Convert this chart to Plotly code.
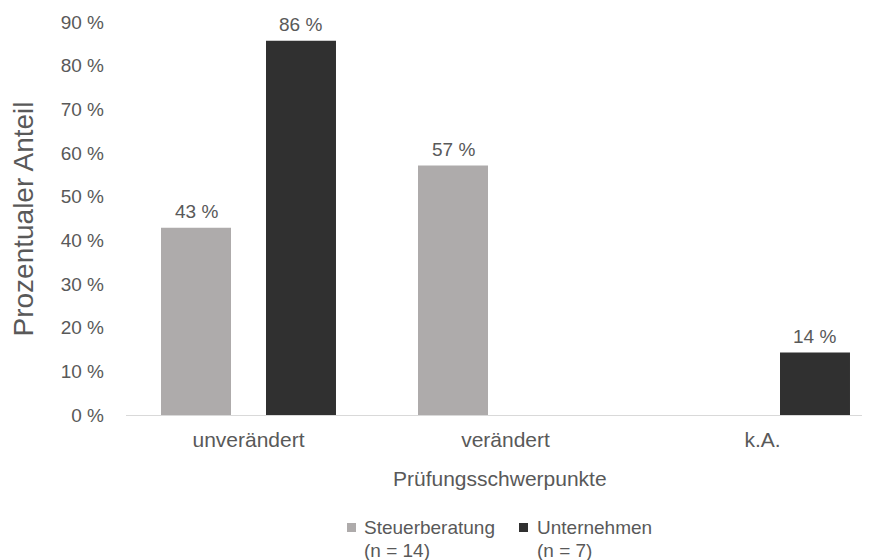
import plotly.graph_objects as go

# Data
categories = ["unverändert", "verändert", "k.A."]
steuerberatung = [42.86, 57.14, None]
unternehmen = [85.71, None, 14.29]
legend_lines = [("Steuerberatung", "(n = 14)"), ("Unternehmen", "(n = 7)")]
y_ticks = [0, 10, 20, 30, 40, 50, 60, 70, 80, 90]

TEXT = "#595959"
FONT = "Liberation Sans, Arial, sans-serif"
GRAY = "#AEABAB"
BLACK = "#303030"

# Figure geometry (pixels)
W, H = 877, 560
ML, MR, MT, MB = 126, 15, 22, 145
PW, PH = W - ML - MR, H - MT - MB
CAT_PX = 257            # width of one category slot
X_START = -(248.5 - ML) / CAT_PX
BARGAP, GROUPGAP = 0.183, 1 / 3
SLOT = CAT_PX * (1 - BARGAP) / 2


def px_x(p):
    return (p - ML) / PW


def px_y(p):
    return (H - MB - p) / PH


fig = go.Figure()
series = [(steuerberatung, GRAY, -1), (unternehmen, BLACK, 1)]
for (name, _), (vals, color, _) in zip(legend_lines, series):
    fig.add_trace(go.Bar(
        x=categories, y=vals, name=name,
        marker=dict(color=color, line=dict(width=0)),
        showlegend=False,
    ))

annotations = []
# value labels above the bars
for vals, _, side in series:
    for cat, v in zip(categories, vals):
        if v is None:
            continue
        annotations.append(dict(
            x=cat, y=v, xref="x", yref="y", text=f"{v:.0f} %", showarrow=False,
            xshift=side * SLOT / 2, yshift=16, yanchor="middle",
            font=dict(size=19, color=TEXT, family=FONT),
        ))

# axis titles
annotations.append(dict(
    x=px_x(23), y=0.5, xref="paper", yref="paper", text="Prozentualer Anteil",
    textangle=-90, showarrow=False, xanchor="center", yanchor="middle",
    font=dict(size=28, color=TEXT, family=FONT),
))
annotations.append(dict(
    x=px_x(126 + PW * 0.5 + 6), y=px_y(478), xref="paper", yref="paper",
    text="Prüfungsschwerpunkte", showarrow=False, xanchor="center", yanchor="middle",
    font=dict(size=21, color=TEXT, family=FONT),
))

# legend
shapes = []
legend_items = [(347, 362, GRAY), (519, 535, BLACK)]
for (line1, line2), (sq_x, txt_x, color) in zip(legend_lines, legend_items):
    shapes.append(dict(
        type="rect", xref="paper", yref="paper",
        x0=px_x(sq_x), x1=px_x(sq_x + 9), y0=px_y(532), y1=px_y(523),
        fillcolor=color, line=dict(width=0),
    ))
    for txt, ypix in [(line1, 527), (line2, 550)]:
        annotations.append(dict(
            x=px_x(txt_x), y=px_y(ypix), xref="paper", yref="paper", text=txt,
            showarrow=False, xanchor="left", yanchor="middle",
            font=dict(size=19, color=TEXT, family=FONT),
        ))

fig.update_layout(
    width=W, height=H,
    margin=dict(l=ML, r=MR, t=MT, b=MB),
    paper_bgcolor="white", plot_bgcolor="white",
    font=dict(family=FONT, color=TEXT, size=19),
    barmode="group", bargap=BARGAP, bargroupgap=GROUPGAP,
    showlegend=False,
    annotations=annotations,
    shapes=shapes,
    xaxis=dict(
        range=[X_START, X_START + PW / CAT_PX],
        showline=True, linecolor="#D9D9D9", linewidth=1,
        ticks="", tickfont=dict(size=21, color=TEXT),
        ticklabelstandoff=6,
    ),
    yaxis=dict(
        range=[0, 90], tickvals=y_ticks, ticktext=[f"{t} %" for t in y_ticks],
        showgrid=False, zeroline=False, showline=False, ticks="",
        tickfont=dict(size=19, color=TEXT),
        ticklabelstandoff=21,
    ),
)

fig.write_html("out.html")
